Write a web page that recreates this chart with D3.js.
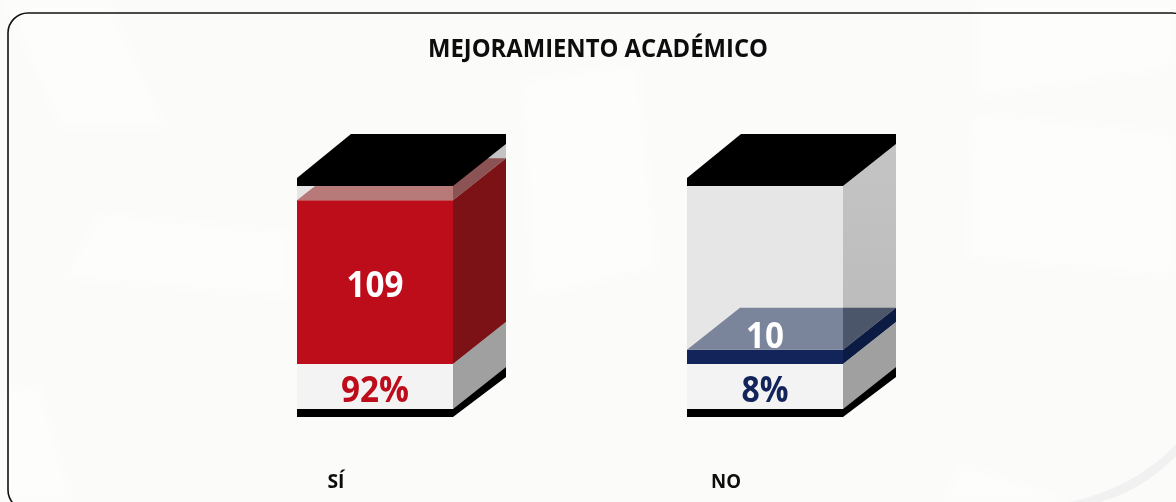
<!DOCTYPE html>
<html>
<head>
<meta charset="utf-8">
<script src="https://cdnjs.cloudflare.com/ajax/libs/d3/7.8.5/d3.min.js"></script>
<style>html,body{margin:0;padding:0;background:#fff;overflow:hidden}svg{display:block}text{font-family:"Open Sans",sans-serif;font-weight:700}</style>
</head>
<body>
<svg id="c" width="1176" height="502"></svg>
<script>
const chartTitle = "MEJORAMIENTO ACADÉMICO";
const categories = ["SÍ", "NO"];
const counts = [109, 10];
const percents = [92, 8];
const mainColors = ["#bd0c1a", "#13245a"];
const sideColors = ["#7d1216", "#0c1b44"];
const topColors = ["#b87a78", "#7a849b"];
const topSideColors = ["#8c5355", "#4c566b"];
const percentColors = ["#bd0c1a", "#13245a"];

const svg = d3.select("#c");
const dx = 53, dy = 42, boxW = 156, capFront = 8, baseFront = 8;
const x = d3.scalePoint().domain(categories).range([297, 687]);
const y = d3.scaleLinear().domain([0, 100]).range([364, 186]);
const bandBottom = 409;
const line = pts => "M" + pts.map(p => p.join(",")).join("L") + "Z";

const defs = svg.append("defs");
const sideGrad = defs.append("linearGradient").attr("id","side").attr("x1",0).attr("y1",0).attr("x2",0).attr("y2",1);
sideGrad.append("stop").attr("offset",0).attr("stop-color","#c4c4c4");
sideGrad.append("stop").attr("offset",1).attr("stop-color","#b8b8b8");
const blur = defs.append("filter").attr("id","soft").attr("x","-20%").attr("y","-20%").attr("width","140%").attr("height","140%");
blur.append("feGaussianBlur").attr("stdDeviation",5);

// faint background photo
svg.append("rect").attr("width",1176).attr("height",502).attr("fill","#fbfbfa");
const bgShapes = [
  [[0,0],[110,0],[170,130],[60,130]],
  [[0,390],[40,380],[75,502],[0,502]],
  [[975,0],[1176,0],[1176,70],[975,100]],
  [[970,110],[1176,130],[1176,280],[965,260]],
  [[520,80],[640,60],[660,270],[530,300]],
  [[100,210],[290,230],[290,300],[60,280]],
  [[960,460],[1080,502],[940,502]]
];
svg.append("g").attr("filter","url(#soft)").selectAll("path").data(bgShapes).join("path")
  .attr("d", line).attr("fill","#ffffff").attr("opacity",0.45);
svg.append("path")
  .attr("d","M1070,502C1115,492 1150,472 1176,444L1176,456C1150,482 1125,495 1100,502Z")
  .attr("fill","#f1f1f1");

// frame
svg.append("rect").attr("x",8).attr("y",13).attr("width",1184).attr("height",497)
  .attr("rx",20).attr("fill","none").attr("stroke","#111").attr("stroke-width",1.6);

// title
svg.append("text").attr("x",598).attr("y",57).attr("text-anchor","middle")
  .attr("font-size",24.5).attr("fill","#0d0d0d")
  .attr("textLength",340).attr("lengthAdjust","spacingAndGlyphs").text(chartTitle);

const countWidths = [57, 38];
const percentWidths = [68, 47];
const catWidths = [17, 30];

categories.forEach((cat, i) => {
  const x0 = x(cat), x1 = x0 + boxW, yTop = y(100), y0 = y(0), yv = y(percents[i]);
  const g = svg.append("g");
  // empty box
  g.append("rect").attr("x",x0).attr("y",yTop).attr("width",boxW).attr("height",bandBottom-yTop).attr("fill","#e6e6e6");
  g.append("path").attr("d",line([[x1,yTop],[x1+dx,yTop-dy],[x1+dx,bandBottom-dy],[x1,bandBottom]])).attr("fill","url(#side)");
  // value block
  g.append("path").attr("d",line([[x1,y0],[x1+dx,y0-dy],[x1+dx,yv-dy],[x1,yv]])).attr("fill",sideColors[i]);
  g.append("rect").attr("x",x0).attr("y",yv).attr("width",boxW).attr("height",y0-yv).attr("fill",mainColors[i]);
  // translucent top surface of the block
  g.append("path").attr("d",line([[x0,yv],[x0+dx,yv-dy],[x1,yv-dy],[x1,yv]])).attr("fill",topColors[i]);
  g.append("path").attr("d",line([[x1,yv],[x1,yv-dy],[x1+dx,yv-dy]])).attr("fill",topSideColors[i]);
  // lower band
  g.append("rect").attr("x",x0).attr("y",y0).attr("width",boxW).attr("height",bandBottom-y0).attr("fill","#f3f3f4");
  g.append("path").attr("d",line([[x1,y0],[x1+dx,y0-dy],[x1+dx,bandBottom-dy],[x1,bandBottom]])).attr("fill","#a0a0a0");
  // black bottom
  g.append("path").attr("d",line([[x0,bandBottom],[x1,bandBottom],[x1+dx,bandBottom-dy],[x1+dx,bandBottom-dy+baseFront+2],[x1,bandBottom+baseFront],[x0,bandBottom+baseFront]])).attr("fill","#000");
  // black cap
  g.append("path").attr("d",line([[x0,yTop-capFront],[x0+dx+1,yTop-dy-10],[x1+dx,yTop-dy-10],[x1+dx,yTop-dy],[x1,yTop],[x0,yTop]])).attr("fill","#000");
  // labels
  const cx = x0 + boxW/2;
  const countY = i === 0 ? (y0+yv)/2 + 15 : yv - 2;
  g.append("text").attr("x",cx).attr("y",countY).attr("text-anchor","middle")
    .attr("font-size",36).attr("fill","#fff")
    .attr("textLength",countWidths[i]).attr("lengthAdjust","spacingAndGlyphs").text(counts[i]);
  g.append("text").attr("x",cx).attr("y",401.5).attr("text-anchor","middle")
    .attr("font-size",36).attr("fill",percentColors[i])
    .attr("textLength",percentWidths[i]).attr("lengthAdjust","spacingAndGlyphs").text(percents[i]+"%");
  g.append("text").attr("x",x0 + 39).attr("y",488).attr("text-anchor","middle")
    .attr("font-size",20).attr("fill","#0d0d0d")
    .attr("textLength",catWidths[i]).attr("lengthAdjust","spacingAndGlyphs").text(cat);
});
</script>
</body>
</html>
